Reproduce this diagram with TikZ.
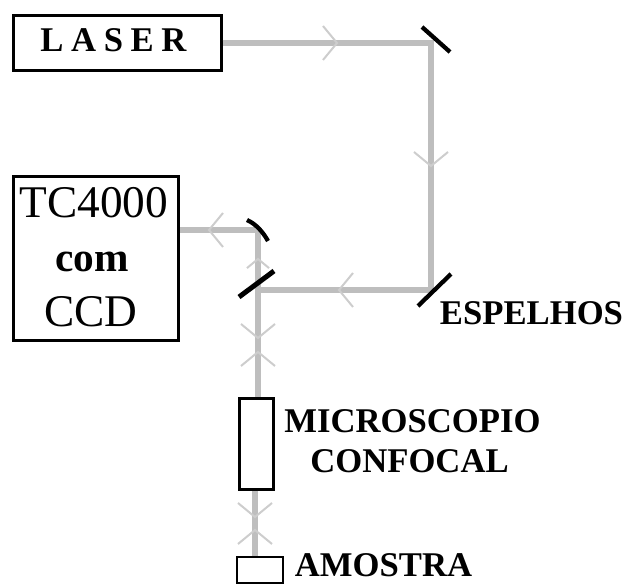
\documentclass[tikz,border=0pt]{standalone}
\usepackage{fontspec}
\setmainfont{Liberation Serif}
\usepackage{xcolor}
\usetikzlibrary{arrows.meta, calc}
\definecolor{beamgray}{RGB}{190,190,190}
\definecolor{tipgray}{RGB}{205,205,205}
\tikzset{
  box-node/.style={rectangle, draw=black, line width=2.25pt, fill=white, inner sep=0pt},
  beam/.style={draw=beamgray, line width=4.5pt},
  mirror/.style={draw=black, line width=3.2pt},
  tag/.style={anchor=base, inner sep=0pt, font=\fontsize{26}{26}\bfseries\selectfont},
  chevron/.pic={\draw[tipgray, line width=1.5pt] (-14,-17) -- (0,0) -- (-14,17);}
}
\begin{document}
\begin{tikzpicture}[x=0.75pt, y=-0.75pt]
    \useasboundingbox (0,0) rectangle (626,584);
    % Beam corners
    \coordinate (m1) at (431,43);
    \coordinate (m2) at (431,290);
    \coordinate (split) at (258,290);
    \coordinate (m3) at (258,230);
    \coordinate (smp) at (255,520);
    % Boxes
    \node[box-node, minimum width=155.6pt, minimum height=41.3pt] (laser) at (117.5,43) {};
    \node[box-node, minimum width=123.8pt, minimum height=123pt] (tc) at (96,258.5) {};
    \node[box-node, minimum width=25pt, minimum height=68pt] (micro) at (256.5,444) {};
    \node[box-node, minimum width=34.5pt, minimum height=20pt, line width=1.5pt] (amostra) at (259.5,570) {};
    % Light path
    \draw[beam] (laser.east) -- (m1) -- (m2) -- (split);
    \draw[beam] (micro.north) ++(1.5,0) -- (m3) -- (m3 -| tc.east);
    \draw[beam] (micro.south -| smp) -- (amostra.north -| smp);
    % Direction marks
    \foreach \x/\y/\a in {337/43/0, 431/166/-90, 339/290/180, 209/230/180, 258/338/-90, 258/352/90, 255/517/-90, 255/530/90}
        \pic[rotate=\a] at (\x,\y) {chevron};
    \pic[rotate=90, scale=0.65] at (258,259) {chevron};
    % Mirrors
    \draw[mirror] (422,27) -- (450,52);
    \draw[mirror] (418,306) -- (451,274);
    \draw[mirror] (247,220) .. controls (256,224) and (263,232) .. (268,241);
    \draw[mirror, line width=3.75pt] (239,297) -- (274,271);
    % Labels
    \node[tag] (lasertxt) at (113.5,52) {\addfontfeature{LetterSpace=22}LASER};
    \node[tag, font=\fontsize{34}{34}\selectfont] (tctxt) at (94,218) {TC4000};
    \node[tag, font=\fontsize{31}{31}\bfseries\selectfont] (comtxt) at (92,272) {com};
    \node[tag, font=\fontsize{34}{34}\selectfont] (ccdtxt) at (91,327) {CCD};
    \node[tag] (esptxt) at (531.5,325) {ESPELHOS};
    \node[tag] (mictxt) at (412.5,433) {MICROSCOPIO};
    \node[tag] (conftxt) at (409.5,473) {CONFOCAL};
    \node[tag] (amotxt) at (383.5,577) {AMOSTRA};
\end{tikzpicture}
\end{document}
